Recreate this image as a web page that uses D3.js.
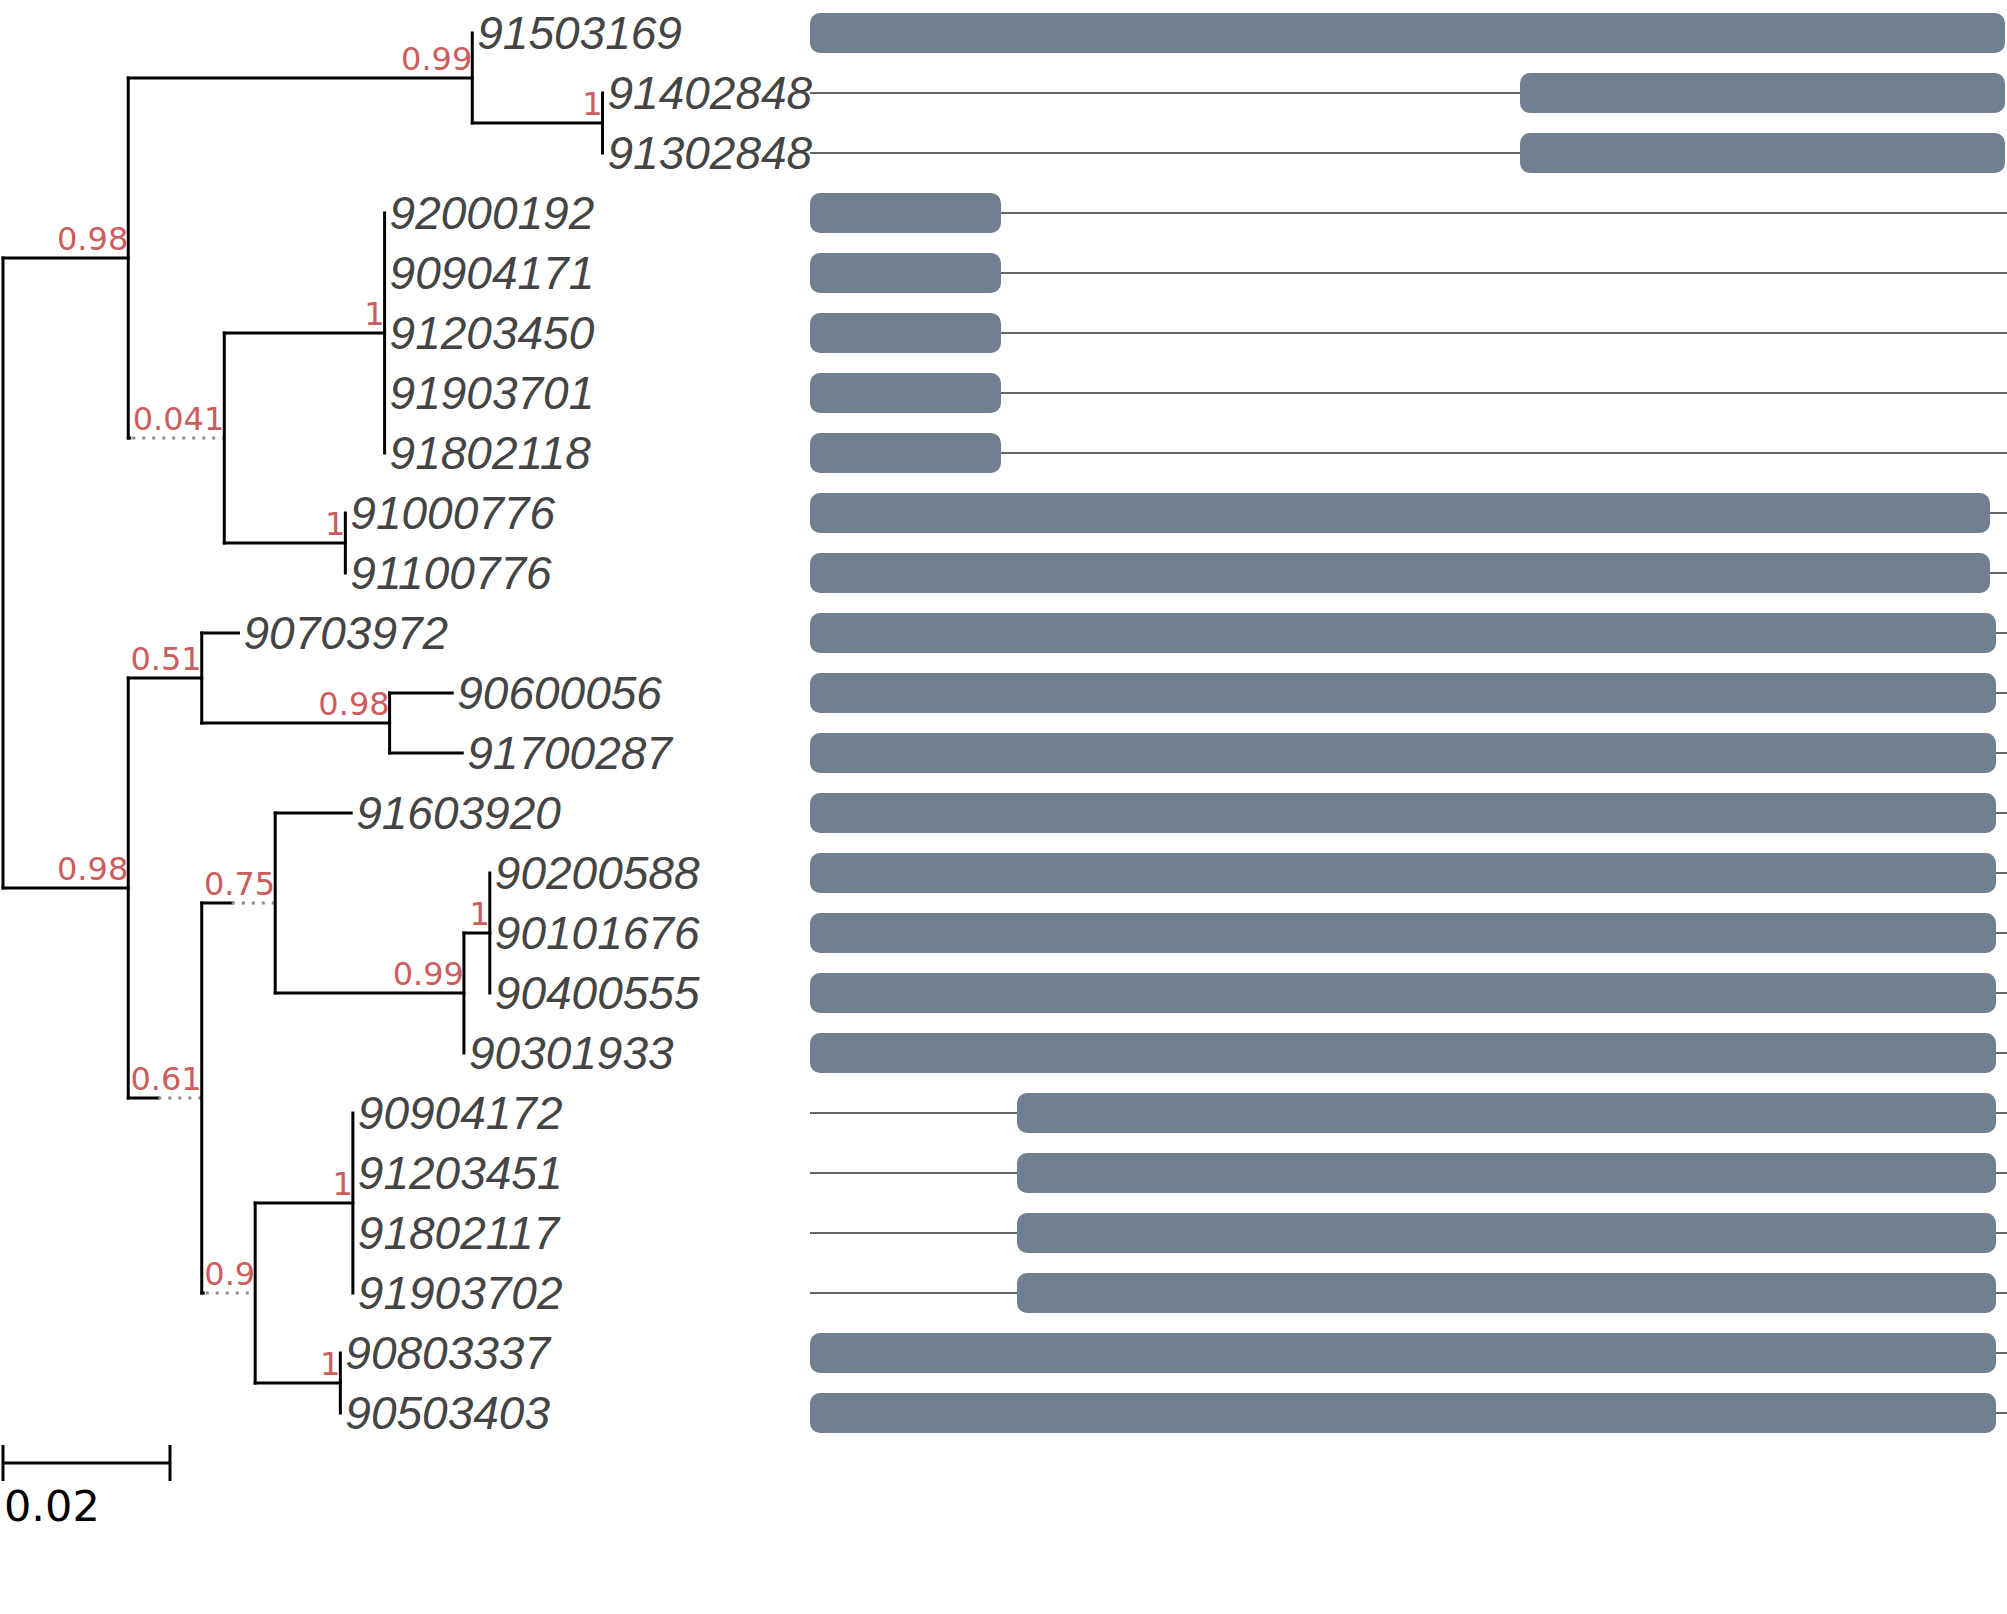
<!DOCTYPE html>
<html>
<head>
<meta charset="utf-8">
<script src="https://cdn.jsdelivr.net/npm/d3@7"></script>
<style>
  html, body { margin: 0; padding: 0; background: #ffffff; }
  svg { display: block; }
</style>
</head>
<body>
<svg id="chart" width="2007" height="1614"></svg>
<script>
// ---------------- DATA ----------------
// Tree (Newick). Internal labels = support; [dot=x] marks a branch drawn dotted, x = solid part length.
const treeNewick =
  "(((91503169:0,(91402848:0,91302848:0)1:0.0156)0.99:0.0412," +
  "((92000192:0,90904171:0,91203450:0,91903701:0,91802118:0)1:0.0192," +
  "(91000776:0,91100776:0)1:0.0145)0.041[dot=0]:0.0115)0.98:0.015," +
  "((90703972:0.0044,(90600056:0.0075,91700287:0.0087)0.98:0.0225)0.51:0.0088," +
  "((91603920:0.0091,((90200588:0,90101676:0,90400555:0)1:0.0031,90301933:0)0.99:0.0226)0.75[dot=0.0036]:0.0088," +
  "((90904172:0,91203451:0,91802117:0,91903702:0)1:0.0117,(90803337:0,90503403:0)1:0.0102)0.9[dot=0]:0.0064)0.61[dot=0.0036]:0.0088)0.98:0.015);";

// Tip order (top to bottom)
const tipNames = ["91503169","91402848","91302848","92000192","90904171","91203450","91903701",
  "91802118","91000776","91100776","90703972","90600056","91700287","91603920","90200588",
  "90101676","90400555","90301933","90904172","91203451","91802117","91903702","90803337","90503403"];
// Sequence track: total length (thin line) and highlighted region (bar), in alignment positions
const seqLength   = [1195,1195,1195,1200,1200,1200,1200,1200,1200,1200,1200,1200,1200,1200,1200,1200,1200,1200,1200,1200,1200,1200,1200,1200];
const regionStart = [0,710,710,0,0,0,0,0,0,0,0,0,0,0,0,0,0,0,207,207,207,207,0,0];
const regionEnd   = [1195,1195,1195,191,191,191,191,191,1180,1180,1186,1186,1186,1186,1186,1186,1186,1186,1186,1186,1186,1186,1186,1186];
const scaleBarValue = 0.02;
const scaleBarLabel = "0.02";

// ---------------- PARSER ----------------
function parseNewick(s) {
  let i = 0;
  function parseNode() {
    const node = { children: [] };
    if (s[i] === "(") {
      i++;
      node.children.push(parseNode());
      while (s[i] === ",") { i++; node.children.push(parseNode()); }
      i++; // ')'
    }
    let name = "";
    while (i < s.length && !",():;[".includes(s[i])) name += s[i++];
    node.name = name;
    if (s[i] === "[") {
      let c = ""; i++;
      while (s[i] !== "]") c += s[i++];
      i++;
      const m = c.match(/dot=([0-9.]+)/);
      if (m) node.dotSolid = +m[1];
    }
    if (s[i] === ":") {
      i++;
      let len = "";
      while (i < s.length && !",();".includes(s[i])) len += s[i++];
      node.length = +len;
    } else node.length = 0;
    if (!node.children.length) delete node.children;
    return node;
  }
  return parseNode();
}

// ---------------- LAYOUT ----------------
const svg = d3.select("#chart");
const root = d3.hierarchy(parseNewick(treeNewick));

const x = d3.scaleLinear().domain([0, scaleBarValue]).range([3, 170]);
const y = d3.scaleLinear().domain([0, tipNames.length - 1]).range([33, 1413]);
const xa = d3.scaleLinear().domain([0, 1200]).range([810, 2010]);

root.eachBefore(d => { d.dist = (d.parent ? d.parent.dist : 0) + (d.parent ? d.data.length : 0); });
root.eachAfter(d => {
  if (!d.children) d.yPos = y(tipNames.indexOf(d.data.name));
  else d.yPos = (d.children[0].yPos + d.children[d.children.length - 1].yPos) / 2;
});

const gTree = svg.append("g");

// horizontal branches
root.descendants().filter(d => d.parent).forEach(d => {
  const x0 = x(d.parent.dist), x1 = x(d.dist), yy = d.yPos;
  if (d.data.dotSolid !== undefined) {
    const xs = x(d.parent.dist + d.data.dotSolid);
    gTree.append("line").attr("x1", x0).attr("x2", Math.max(xs, x0 + 1.5)).attr("y1", yy).attr("y2", yy)
      .attr("stroke", "#000").attr("stroke-width", 3).attr("stroke-linecap", "square");
    gTree.append("line").attr("x1", Math.max(xs, x0 + 4)).attr("x2", x1).attr("y1", yy).attr("y2", yy)
      .attr("stroke", "#8c8c8c").attr("stroke-width", 3).attr("stroke-dasharray", "3 7");
  } else if (x1 - x0 > 0.1) {
    gTree.append("line").attr("x1", x0).attr("x2", x1).attr("y1", yy).attr("y2", yy)
      .attr("stroke", "#000").attr("stroke-width", 3).attr("stroke-linecap", "square");
  }
});

// vertical connectors
root.descendants().filter(d => d.children).forEach(d => {
  const xx = x(d.dist);
  gTree.append("line").attr("x1", xx).attr("x2", xx)
    .attr("y1", d.children[0].yPos).attr("y2", d.children[d.children.length - 1].yPos)
    .attr("stroke", "#000").attr("stroke-width", 3).attr("stroke-linecap", "square");
});

// support labels
root.descendants().filter(d => d.children && d.parent && d.data.name).forEach(d => {
  gTree.append("text").attr("x", x(d.dist)).attr("y", d.yPos - 8)
    .attr("text-anchor", "end")
    .attr("font-family", "DejaVu Sans").attr("font-size", 32)
    .attr("fill", "#CD5C5C").text(d.data.name);
});

// leaf labels
root.leaves().forEach(d => {
  gTree.append("text").attr("x", x(d.dist) + 5).attr("y", d.yPos + 16)
    .attr("font-family", "Liberation Sans, Arial, sans-serif").attr("font-style", "italic")
    .attr("font-size", 46).attr("fill", "#444444").text(d.data.name);
});

// ---------------- SEQUENCE TRACK ----------------
const gSeq = svg.append("g");
tipNames.forEach((name, i) => {
  const yy = y(i);
  gSeq.append("line").attr("x1", xa(0)).attr("x2", xa(seqLength[i]))
    .attr("y1", yy).attr("y2", yy).attr("stroke", "#333").attr("stroke-width", 1.4);
  gSeq.append("rect").attr("x", xa(regionStart[i])).attr("y", yy - 20)
    .attr("width", xa(regionEnd[i]) - xa(regionStart[i])).attr("height", 40)
    .attr("rx", 10).attr("ry", 10).attr("fill", "#708090");
});

// ---------------- SCALE BAR ----------------
const sb = svg.append("g");
const sbY = 1463;
sb.append("line").attr("x1", x(0)).attr("x2", x(scaleBarValue)).attr("y1", sbY).attr("y2", sbY)
  .attr("stroke", "#000").attr("stroke-width", 3);
[0, scaleBarValue].forEach(v => {
  sb.append("line").attr("x1", x(v)).attr("x2", x(v)).attr("y1", sbY - 18).attr("y2", sbY + 18)
    .attr("stroke", "#000").attr("stroke-width", 3);
});
sb.append("text").attr("x", x(0) + 1).attr("y", 1521)
  .attr("font-family", "DejaVu Sans").attr("font-size", 43).attr("fill", "#000").text(scaleBarLabel);
</script>
</body>
</html>
